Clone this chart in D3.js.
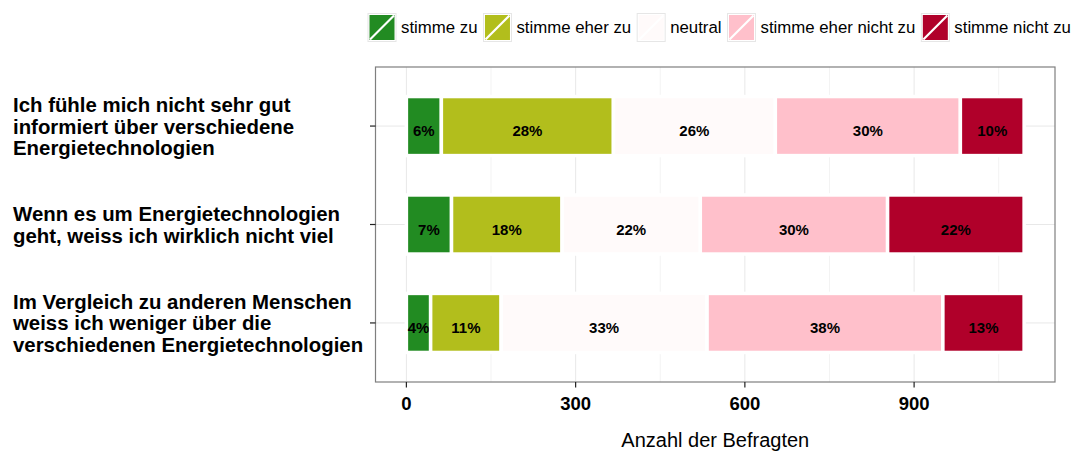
<!DOCTYPE html>
<html>
<head>
<meta charset="utf-8">
<script src="https://cdn.jsdelivr.net/npm/d3@7"></script>
<style>
    body { margin: 0; background: #fff; }
    text { font-family: "Liberation Sans", Arial, Helvetica, sans-serif; }
</style>
</head>
<body>
<div id="chart"></div>
<script>
// Data
var statements = [
    ["Ich fühle mich nicht sehr gut", "informiert über verschiedene", "Energietechnologien"],
    ["Wenn es um Energietechnologien", "geht, weiss ich wirklich nicht viel"],
    ["Im Vergleich zu anderen Menschen", "weiss ich weniger über die", "verschiedenen Energietechnologien"]
];
var levels = ["stimme zu", "stimme eher zu", "neutral", "stimme eher nicht zu", "stimme nicht zu"];
var levelColors = ["#228b22", "#b2be1c", "#fffafa", "#ffc0cb", "#b0002a"];

// respondents per answer, one value per statement
var stimmeZu = [62, 80, 43];
var stimmeEherZu = [305, 196, 125];
var neutral = [287, 245, 365];
var stimmeEherNichtZu = [328, 332, 418];
var stimmeNichtZu = [113, 242, 144];

var xTicks = [0, 300, 600, 900];
var xMinorTicks = [150, 450, 750, 1050];
var xTitle = "Anzahl der Befragten";

// table for the stack layout
var rows = statements.map(function(s, i) {
    return {
        key: i,
        "stimme zu": stimmeZu[i],
        "stimme eher zu": stimmeEherZu[i],
        "neutral": neutral[i],
        "stimme eher nicht zu": stimmeEherNichtZu[i],
        "stimme nicht zu": stimmeNichtZu[i]
    };
});
var series = d3.stack().keys(levels)(rows);

// SVG drawing area
var width = 1071, height = 452;
var panel = {left: 375.5, right: 1055, top: 67, bottom: 382};

var svg = d3.select("#chart").append("svg")
    .attr("width", width)
    .attr("height", height);

//Scales
var maxTotal = d3.max(series[series.length - 1], function(d) { return d[1]; });
var xScale = d3.scaleLinear()
    .domain([-0.05 * maxTotal, 1.05 * maxTotal])
    .range([panel.left, panel.right]);

var yScale = d3.scalePoint()
    .domain(d3.range(statements.length))
    .range([panel.top, panel.bottom])
    .padding(0.6);

var color = d3.scaleOrdinal().domain(levels).range(levelColors);
var barH = yScale.step() * 0.6;

// Panel background + grid
svg.append("rect")
    .attr("x", panel.left).attr("y", panel.top)
    .attr("width", panel.right - panel.left)
    .attr("height", panel.bottom - panel.top)
    .style("fill", "#fff");

svg.selectAll(".minor-grid")
    .data(xMinorTicks)
    .enter().append("line")
    .attr("class", "minor-grid")
    .attr("x1", function(d) { return xScale(d); })
    .attr("x2", function(d) { return xScale(d); })
    .attr("y1", panel.top).attr("y2", panel.bottom)
    .style("stroke", "#f3f3f3")
    .style("stroke-width", 1);

svg.selectAll(".x-grid")
    .data(xTicks)
    .enter().append("line")
    .attr("class", "x-grid")
    .attr("x1", function(d) { return xScale(d); })
    .attr("x2", function(d) { return xScale(d); })
    .attr("y1", panel.top).attr("y2", panel.bottom)
    .style("stroke", "#e8e8e8")
    .style("stroke-width", 1);

svg.selectAll(".y-grid")
    .data(yScale.domain())
    .enter().append("line")
    .attr("class", "y-grid")
    .attr("x1", panel.left).attr("x2", panel.right)
    .attr("y1", function(d) { return yScale(d); })
    .attr("y2", function(d) { return yScale(d); })
    .style("stroke", "#e8e8e8")
    .style("stroke-width", 1);

// Bars
var layer = svg.selectAll(".layer")
    .data(series)
    .enter().append("g")
    .attr("class", "layer")
    .style("fill", function(d) { return color(d.key); });

layer.selectAll("rect")
    .data(function(d) { return d; })
    .enter().append("rect")
    .attr("x", function(d) { return xScale(d[0]); })
    .attr("y", function(d) { return yScale(d.data.key) - barH / 2; })
    .attr("width", function(d) { return xScale(d[1]) - xScale(d[0]); })
    .attr("height", barH)
    .style("stroke", "#fff")
    .style("stroke-width", 3.5);

// Percent labels
layer.selectAll("text")
    .data(function(d) { return d; })
    .enter().append("text")
    .attr("x", function(d) { return xScale((d[0] + d[1]) / 2); })
    .attr("y", function(d) { return yScale(d.data.key) + 10; })
    .attr("text-anchor", "middle")
    .style("font-size", "15px")
    .style("font-weight", "bold")
    .style("fill", "#000")
    .text(function(d) {
        var total = d3.sum(levels, function(k) { return d.data[k]; });
        return Math.round((d[1] - d[0]) / total * 100) + "%";
    });

// Panel border
svg.append("rect")
    .attr("x", panel.left).attr("y", panel.top)
    .attr("width", panel.right - panel.left)
    .attr("height", panel.bottom - panel.top)
    .style("fill", "none")
    .style("stroke", "#7f7f7f")
    .style("stroke-width", 1.2);

//Axis ticks
svg.selectAll(".x-tick")
    .data(xTicks)
    .enter().append("line")
    .attr("class", "x-tick")
    .attr("x1", function(d) { return xScale(d); })
    .attr("x2", function(d) { return xScale(d); })
    .attr("y1", panel.bottom).attr("y2", panel.bottom + 5.5)
    .style("stroke", "#222")
    .style("stroke-width", 1.2);

svg.selectAll(".x-label")
    .data(xTicks)
    .enter().append("text")
    .attr("class", "x-label")
    .attr("x", function(d) { return xScale(d); })
    .attr("y", 410)
    .attr("text-anchor", "middle")
    .style("font-size", "18.5px")
    .style("font-weight", "bold")
    .text(function(d) { return d; });

svg.selectAll(".y-tick")
    .data(yScale.domain())
    .enter().append("line")
    .attr("class", "y-tick")
    .attr("x1", panel.left - 5.5).attr("x2", panel.left)
    .attr("y1", function(d) { return yScale(d); })
    .attr("y2", function(d) { return yScale(d); })
    .style("stroke", "#222")
    .style("stroke-width", 1.2);

var yLab = svg.selectAll(".y-label")
    .data(statements)
    .enter().append("text")
    .attr("class", "y-label")
    .style("font-size", "20.4px")
    .style("font-weight", "bold");

yLab.selectAll("tspan")
    .data(function(d, i) {
        return d.map(function(line, j) { return {line: line, j: j, n: d.length, row: i}; });
    })
    .enter().append("tspan")
    .attr("x", 13)
    .attr("y", function(d) { return yScale(d.row) + 7.5 + (d.j - (d.n - 1) / 2) * 21.5; })
    .text(function(d) { return d.line; });

// Axis title
svg.append("text")
    .attr("x", (panel.left + panel.right) / 2)
    .attr("y", 447)
    .attr("text-anchor", "middle")
    .style("font-size", "20px")
    .text(xTitle);

// Legend
var legend = svg.append("g").attr("class", "legend");
var lx = 368;
levels.forEach(function(lv) {
    var g = legend.append("g").attr("transform", "translate(" + lx + ",13.5)");
    g.append("rect")
        .attr("width", 28).attr("height", 28)
        .style("fill", "#fff")
        .style("stroke", "#e6e6e6");
    g.append("rect")
        .attr("x", 1.5).attr("y", 1.5)
        .attr("width", 25).attr("height", 25)
        .style("fill", color(lv));
    g.append("line")
        .attr("x1", 2).attr("y1", 26)
        .attr("x2", 26).attr("y2", 2)
        .style("stroke", "#fff")
        .style("stroke-width", 2.2);
    var t = g.append("text")
        .attr("x", 33).attr("y", 19.5)
        .style("font-size", "16.8px")
        .text(lv);
    lx += 33 + t.node().getComputedTextLength() + 6;
});
</script>
</body>
</html>
